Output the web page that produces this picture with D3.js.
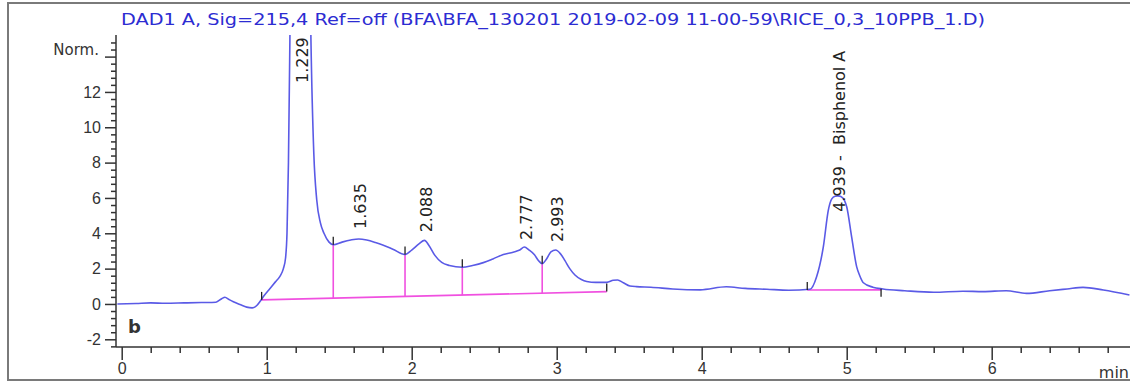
<!DOCTYPE html>
<html>
<head>
<meta charset="utf-8">
<script src="https://cdn.jsdelivr.net/npm/d3@7"></script>
<style>
  body { margin: 0; background: #fff; }
  svg { display: block; font-family: 'DejaVu Sans', sans-serif; }
  .axis text { font-size: 16px; fill: #333; }
  .axis line, .axis path { stroke: #333; stroke-width: 1.5; }
  .trace { fill: none; stroke: #5a5ae6; stroke-width: 1.6; }
  .base { stroke: #f050e0; stroke-width: 1.6; }
  .mark { stroke: #222; stroke-width: 1.3; }
  .peak-label { font-size: 16px; fill: #222; white-space: pre; }
</style>
</head>
<body>
<div id="chart"></div>
<script>

// Chromatogram trace (retention time in min, signal in Norm.)
var times = [-0.03, 0.1, 0.2, 0.3, 0.43, 0.55, 0.65, 0.69, 0.712, 0.74, 0.77, 0.82, 0.862, 0.9, 0.93,
  0.955, 0.98, 1.02, 1.06, 1.09, 1.115, 1.13, 1.14, 1.15, 1.16, 1.18, 1.229, 1.28, 1.305, 1.325,
  1.345, 1.37, 1.395, 1.43, 1.46, 1.52, 1.58, 1.635, 1.69, 1.75, 1.8, 1.87, 1.954, 2.0, 2.05,
  2.088, 2.12, 2.16, 2.207, 2.26, 2.349, 2.42, 2.494, 2.56, 2.632, 2.7, 2.745, 2.777, 2.81, 2.845,
  2.875, 2.9, 2.93, 2.96, 2.993, 3.025, 3.057, 3.09, 3.126, 3.17, 3.207, 3.27, 3.345, 3.39, 3.42,
  3.46, 3.505, 3.55, 3.65, 3.8, 3.99, 4.17, 4.3, 4.45, 4.6, 4.747, 4.793, 4.839, 4.873, 4.897,
  4.92, 4.939, 4.96, 4.985, 5.0, 5.034, 5.069, 5.09, 5.115, 5.18, 5.25, 5.4, 5.6, 5.8, 5.94,
  6.1, 6.24, 6.4, 6.52, 6.63, 6.77, 6.95];
var signal = [0.0, 0.03, 0.06, 0.04, 0.06, 0.08, 0.1, 0.3, 0.38, 0.25, 0.12, -0.05, -0.18, -0.22, -0.1,
  0.15, 0.45, 0.85, 1.25, 1.55, 2.0, 2.6, 4.0, 8.0, 15, 32, 60, 32, 15, 8.5,
  5.9, 4.6, 4.0, 3.5, 3.35, 3.5, 3.62, 3.68, 3.62, 3.48, 3.34, 3.1, 2.8, 3.05, 3.4,
  3.6, 3.3, 2.75, 2.35, 2.18, 2.08, 2.18, 2.34, 2.55, 2.8, 2.93, 3.05, 3.22, 3.05, 2.8,
  2.45, 2.28, 2.55, 2.95, 3.05, 2.85, 2.45, 2.0, 1.64, 1.38, 1.27, 1.22, 1.22, 1.34, 1.36,
  1.2, 1.02, 0.98, 0.95, 0.85, 0.8, 0.97, 0.88, 0.83, 0.78, 0.83, 1.55, 3.24, 5.3, 5.95,
  6.1, 6.12, 6.08, 5.85, 5.5, 3.8, 2.1, 1.6, 1.2, 0.95, 0.85, 0.75, 0.66, 0.72, 0.7,
  0.75, 0.6, 0.75, 0.85, 0.94, 0.79, 0.51];

// Integration baselines: [start time, start level, end time, end level]
var baselines = [
  [0.965, 0.23, 3.345, 0.70],
  [4.728, 0.79, 5.237, 0.80]
];
var dropTimes = [1.459, 1.954, 2.349, 2.90];

// Peak labels
var peakTimes = [1.229, 1.635, 2.088, 2.777, 2.993, 4.939];
var peakNames = ['1.229', '1.635', '2.088', '2.777', '2.993', '4.939 -  Bisphenol A'];

var xTicks = [0, 1, 2, 3, 4, 5, 6];
var yTicks = [-2, 0, 2, 4, 6, 8, 10, 12];
var title = 'DAD1 A, Sig=215,4 Ref=off (BFA\\BFA_130201 2019-02-09 11-00-59\\RICE_0,3_10PPB_1.D)';

var width = 1130,
    height = 382;

var svg = d3.select('#chart')
  .append('svg')
    .attr('width', width)
    .attr('height', height);

// Plot area edges
var plotLeft = 116, plotRight = 1130, plotTop = 35, plotBottom = 347;

var x = d3.scaleLinear().domain([0, 7]).range([121.7, 1136.7]);
var y = d3.scaleLinear().domain([-2, 14]).range([339.3, 56.6]);

// Outer frame
svg.append('rect')
  .attr('x', 8).attr('y', 3)
  .attr('width', width).attr('height', 377)
  .attr('fill', 'none')
  .attr('stroke', '#7a7a7a')
  .attr('stroke-width', 2);

// Title
svg.append('text')
  .attr('x', 121)
  .attr('y', 25)
  .attr('fill', '#2c2cd2')
  .attr('textLength', 864)
  .attr('lengthAdjust', 'spacingAndGlyphs')
  .style('font-size', '16px')
  .text(title);

// X axis: minor then major ticks
var minorX = d3.range(0, 7, 0.2).filter(function(d){ return Math.abs(d - Math.round(d)) > 1e-6; });
svg.append('g')
  .attr('class', 'axis')
  .attr('transform', 'translate(0,' + plotBottom + ')')
  .call(d3.axisBottom(x).tickValues(minorX).tickSize(6).tickFormat(''))
  .call(function(g){ g.select('.domain').remove(); });

svg.append('g')
  .attr('class', 'axis')
  .attr('transform', 'translate(0,' + plotBottom + ')')
  .call(d3.axisBottom(x).tickValues(xTicks).tickSize(13).tickPadding(3).tickFormat(d3.format('d')))
  .call(function(g){ g.select('.domain').remove(); });

svg.append('line')
  .attr('x1', plotLeft).attr('x2', plotRight)
  .attr('y1', plotBottom).attr('y2', plotBottom)
  .attr('stroke', '#333').attr('stroke-width', 1.5);

svg.append('text')
  .attr('x', 1129)
  .attr('y', 378)
  .attr('text-anchor', 'end')
  .attr('fill', '#333')
  .style('font-size', '16px')
  .text('min');

// Y axis: minor then major ticks
var minorY = d3.range(-2.4, 15.2, 0.4).filter(function(d){ return Math.abs(d / 2 - Math.round(d / 2)) > 1e-6; });
svg.append('g')
  .attr('class', 'axis')
  .attr('transform', 'translate(' + plotLeft + ',0)')
  .call(d3.axisLeft(y).tickValues(minorY).tickSize(5).tickFormat(''))
  .call(function(g){ g.select('.domain').remove(); });

svg.append('g')
  .attr('class', 'axis')
  .attr('transform', 'translate(' + plotLeft + ',0)')
  .call(d3.axisLeft(y).tickValues(yTicks.concat([14])).tickSize(11).tickPadding(4)
    .tickFormat(function(d){ return d === 14 ? '' : d; }))
  .call(function(g){ g.select('.domain').remove(); });

svg.append('line')
  .attr('x1', plotLeft).attr('x2', plotLeft)
  .attr('y1', plotTop).attr('y2', plotBottom)
  .attr('stroke', '#333').attr('stroke-width', 1.5);

svg.append('text')
  .attr('x', 99)
  .attr('y', y(14) - 7)
  .attr('dy', '0.35em')
  .attr('text-anchor', 'end')
  .attr('fill', '#333')
  .style('font-size', '15px')
  .text('Norm.');

svg.append('text')
  .attr('x', 128)
  .attr('y', 333)
  .attr('fill', '#333')
  .style('font-size', '18px')
  .style('font-weight', 'bold')
  .text('b');

// Clip to plot area
svg.append('clipPath')
  .attr('id', 'plot-clip')
  .append('rect')
    .attr('x', plotLeft).attr('y', plotTop)
    .attr('width', plotRight - plotLeft).attr('height', plotBottom - plotTop);

var points = times.map(function(t, i){ return [t, signal[i]]; });
var interp = function(t){
  var i = d3.bisector(function(d){ return d[0]; }).left(points, t);
  if (i <= 0) return points[0][1];
  var a = points[i - 1], b = points[i];
  return a[1] + (b[1] - a[1]) * (t - a[0]) / (b[0] - a[0]);
};
var baseAt = function(t){
  var b = baselines[0];
  return b[1] + (b[3] - b[1]) * (t - b[0]) / (b[2] - b[0]);
};

var plot = svg.append('g').attr('clip-path', 'url(#plot-clip)');

// Baselines
plot.selectAll('.base-line')
  .data(baselines)
  .enter()
    .append('line')
      .attr('class', 'base')
      .attr('x1', function(d){ return x(d[0]); })
      .attr('y1', function(d){ return y(d[1]); })
      .attr('x2', function(d){ return x(d[2]); })
      .attr('y2', function(d){ return y(d[3]); });

// Drop lines
plot.selectAll('.drop')
  .data(dropTimes)
  .enter()
    .append('line')
      .attr('class', 'base')
      .attr('x1', function(d){ return x(d); })
      .attr('x2', function(d){ return x(d); })
      .attr('y1', function(d){ return y(baseAt(d)); })
      .attr('y2', function(d){ return y(interp(d)); });

// Trace
plot.append('path')
  .datum(points)
  .attr('class', 'trace')
  .attr('d', d3.line()
    .x(function(d){ return x(d[0]); })
    .y(function(d){ return y(d[1]); })
    .curve(d3.curveMonotoneX));

// Integration tick marks
var marks = [];
baselines.forEach(function(b){
  marks.push({ x: b[0], y: b[1], up: -8, down: 0 });
  marks.push({ x: b[2], y: b[3], up: -8, down: 0 });
});
marks[3].up = -1; marks[3].down = 7;
dropTimes.forEach(function(t){ marks.push({ x: t, y: interp(t), up: -8, down: 0 }); });

plot.selectAll('.tick-mark')
  .data(marks)
  .enter()
    .append('line')
      .attr('class', 'mark')
      .attr('x1', function(d){ return x(d.x); })
      .attr('x2', function(d){ return x(d.x); })
      .attr('y1', function(d){ return y(d.y) + d.down; })
      .attr('y2', function(d){ return y(d.y) + d.up; });

// Peak labels (rotated)
var labelShift = [0, -10, -8, -7, -8, 16];
svg.selectAll('.peak-label')
  .data(peakTimes)
  .enter()
    .append('text')
      .attr('class', 'peak-label')
      .attr('transform', function(d, i){
        var ly = Math.max(y(interp(d)) + labelShift[i], 83);
        return 'translate(' + (x(d) + 2) + ',' + ly + ') rotate(-90)';
      })
      .attr('dy', '0.35em')
      .text(function(d, i){ return peakNames[i]; });

</script>
</body>
</html>
